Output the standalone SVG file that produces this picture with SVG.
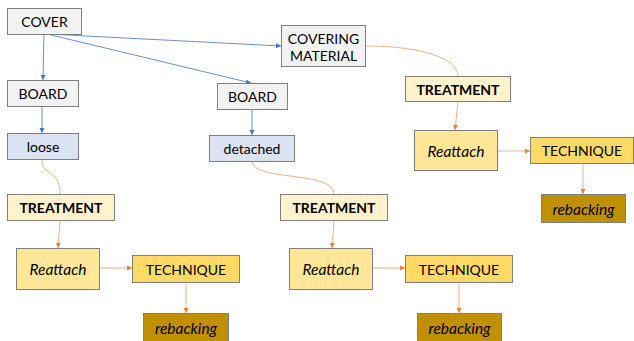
<svg xmlns="http://www.w3.org/2000/svg" width="634" height="341" viewBox="0 0 634 341">
<defs>
<style>
rect{stroke:#7f7f7f;stroke-width:1}
.g{fill:#f2f2f2}
.b{fill:#dae3f3}
.t{fill:#fff2cc}
.r{fill:#ffe699}
.q{fill:#ffd966}
.k{fill:#bf9000}
text{font-family:Lato,"Open Sans","Liberation Sans",sans-serif;font-size:14px;fill:#000;text-anchor:middle;dominant-baseline:central}
.bo{font-weight:bold}
.it{font-style:italic;font-size:15.5px}
.cb{fill:none;stroke:#4472c4;stroke-width:0.8}
.co{fill:none;stroke:#f4b183;stroke-width:1}
</style>
<marker id="ab" markerWidth="6" markerHeight="6" refX="5" refY="3" orient="auto" markerUnits="userSpaceOnUse"><path d="M0,0.5 L5,3 L0,5.5Z" fill="#4472c4"/></marker>
<marker id="ao" markerWidth="6" markerHeight="6" refX="5" refY="3" orient="auto" markerUnits="userSpaceOnUse"><path d="M0,0.5 L5,3 L0,5.5Z" fill="#ed7d31"/></marker>
</defs>
<g id="connectors">
<path class="cb" d="M44,34 L43,80" marker-end="url(#ab)"/>
<path class="cb" d="M47,34 L281,46" marker-end="url(#ab)"/>
<path class="cb" d="M47,34 L251,83" marker-end="url(#ab)"/>
<path class="cb" d="M42,107 L42,133" marker-end="url(#ab)"/>
<path class="cb" d="M252,109 L252,135" marker-end="url(#ab)"/>
<path class="co" d="M366,46 C420,46 458,58 458,76"/>
<path class="co" d="M458,101 L455,130" marker-end="url(#ao)"/>
<path class="co" d="M498,151 L530,151" marker-end="url(#ao)"/>
<path class="co" d="M583,163 L583,194" marker-end="url(#ao)"/>
<path class="co" d="M42,159 C42,178 60,168 60,194"/>
<path class="co" d="M60,221 L58,248" marker-end="url(#ao)"/>
<path class="co" d="M100,268 L132,268" marker-end="url(#ao)"/>
<path class="co" d="M186,282 L186,313" marker-end="url(#ao)"/>
<path class="co" d="M252,161 C252,182 334,170 334,194"/>
<path class="co" d="M334,221 L332,248" marker-end="url(#ao)"/>
<path class="co" d="M373,268 L405,268" marker-end="url(#ao)"/>
<path class="co" d="M459,282 L459,313" marker-end="url(#ao)"/>
</g>
<g id="cover"><rect class="g" x="7.5" y="8.5" width="74" height="26"/><text x="44.5" y="21.5">COVER</text></g>
<g id="covering-material"><rect class="g" x="281.5" y="25.5" width="84" height="41"/><text x="323.5" y="38">COVERING</text><text x="323.5" y="55">MATERIAL</text></g>
<g id="board1"><rect class="g" x="7.5" y="80.5" width="71" height="26"/><text x="43" y="93.5">BOARD</text></g>
<g id="board2"><rect class="g" x="217.5" y="83.5" width="70" height="26"/><text x="252.5" y="96.5">BOARD</text></g>
<g id="loose"><rect class="b" x="7.5" y="133.5" width="71" height="26"/><text x="43" y="146.5">loose</text></g>
<g id="detached"><rect class="b" x="209.5" y="135.5" width="85" height="26"/><text x="252" y="148.5">detached</text></g>
<g id="treatment3"><rect class="t" x="405.5" y="76.5" width="105" height="25"/><text class="bo" x="458" y="89">TREATMENT</text></g>
<g id="reattach3"><rect class="r" x="414.5" y="130.5" width="83" height="40"/><text class="it" x="456" y="150.5">Reattach</text></g>
<g id="technique3"><rect class="q" x="530.5" y="137.5" width="103" height="26"/><text x="582" y="150.5">TECHNIQUE</text></g>
<g id="rebacking3"><rect class="k" x="541.5" y="194.5" width="84" height="28"/><text class="it" x="583.5" y="208.5">rebacking</text></g>
<g id="treatment1"><rect class="t" x="7.5" y="194.5" width="107" height="26"/><text class="bo" x="61" y="207.5">TREATMENT</text></g>
<g id="reattach1"><rect class="r" x="16.5" y="248.5" width="83" height="41"/><text class="it" x="58" y="269">Reattach</text></g>
<g id="technique1"><rect class="q" x="132.5" y="255.5" width="107" height="27"/><text x="186" y="269">TECHNIQUE</text></g>
<g id="rebacking1"><rect class="k" x="143.5" y="313.5" width="85" height="30"/><text class="it" x="186" y="327.5">rebacking</text></g>
<g id="treatment2"><rect class="t" x="280.5" y="194.5" width="107" height="26"/><text class="bo" x="334" y="207.5">TREATMENT</text></g>
<g id="reattach2"><rect class="r" x="289.5" y="248.5" width="83" height="41"/><text class="it" x="331" y="269">Reattach</text></g>
<g id="technique2"><rect class="q" x="405.5" y="255.5" width="107" height="27"/><text x="459" y="269">TECHNIQUE</text></g>
<g id="rebacking2"><rect class="k" x="417.5" y="313.5" width="84" height="30"/><text class="it" x="459.5" y="327.5">rebacking</text></g>
</svg>
